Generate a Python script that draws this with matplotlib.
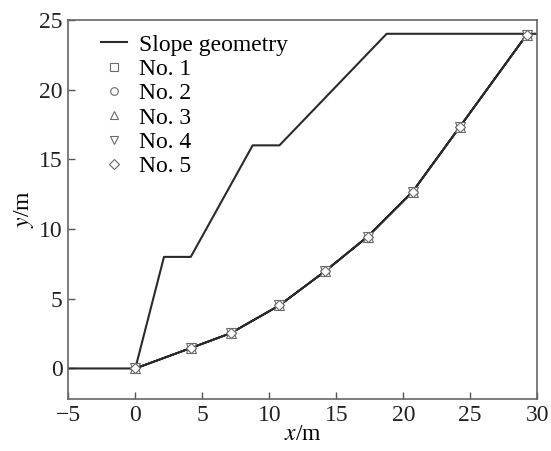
import matplotlib
matplotlib.use('Agg')
import matplotlib.pyplot as plt
from matplotlib.lines import Line2D

plt.rcParams['font.family'] = ['Liberation Serif', 'DejaVu Serif']
plt.rcParams['mathtext.fontset'] = 'stix'

# slope profile (75, 60, 45 degree faces with 2 m benches)
slope_x = [-5, 0, 2.14, 4.14, 8.76, 10.76, 18.76, 30]
slope_y = [0, 0, 8, 8, 16, 16, 24, 24]

# critical slip surfaces for the five cases (practically coincident)
slip_x = [0, 4.13, 7.12, 10.75, 14.16, 17.35, 20.71, 24.24, 29.22]
no1_y = [0, 1.46, 2.53, 4.52, 6.97, 9.46, 12.69, 17.35, 23.94]
no2_y = [0, 1.46, 2.53, 4.52, 6.97, 9.46, 12.69, 17.35, 23.94]
no3_y = [0, 1.46, 2.53, 4.52, 6.97, 9.46, 12.69, 17.35, 23.94]
no4_y = [0, 1.46, 2.53, 4.52, 6.97, 9.46, 12.69, 17.35, 23.94]
no5_y = [0, 1.46, 2.53, 4.52, 6.97, 9.46, 12.69, 17.35, 23.94]

labels = ['No. 1', 'No. 2', 'No. 3', 'No. 4', 'No. 5']
markers = ['s', 'o', '^', 'v', 'D']
series = [no1_y, no2_y, no3_y, no4_y, no5_y]
sizes = {'s': 5, 'o': 6, '^': 7.5, 'v': 7.5, 'D': 5.5}

fig = plt.figure(figsize=(5.51, 4.51), dpi=100)
ax = fig.add_axes([0.124, 0.115, 0.851, 0.841])

line_c = '#2a2a2a'
edge_c = '#6a6a6a'

ax.plot(slope_x, slope_y, color=line_c, lw=1.5, zorder=2)

for ys in series:
    ax.plot(slip_x, ys, color=line_c, lw=1.3, zorder=2)
for ys, m in zip(series, markers):
    ax.plot(slip_x, ys, ls='none', marker=m, ms=sizes[m], mfc='white',
            mec=edge_c, mew=0.8, zorder=3)

handles = [Line2D([], [], color=line_c, lw=1.5, label='Slope geometry')]
for lab, m in zip(labels, markers):
    handles.append(Line2D([], [], ls='none', marker=m, ms=5.5, mfc='white',
                          mec=edge_c, mew=0.8, label=lab))
ax.legend(handles=handles, loc='upper left', frameon=False, fontsize=17,
          handlelength=1.1, handletextpad=0.5, labelspacing=0.12,
          borderaxespad=0.2, bbox_to_anchor=(0.04, 1.0))

ax.set_xlim(-5, 30)
ax.set_ylim(-2.2, 25)
ax.set_xticks([-5, 0, 5, 10, 15, 20, 25, 30])
ax.set_xticklabels(['\u22125', '0', '5', '10', '15', '20', '25', '30'])
ax.set_yticks([0, 5, 10, 15, 20, 25])
ax.tick_params(direction='in', length=5, width=1, labelsize=17, colors='#222222',
               pad=4)
ax.tick_params(axis='both', color='#555555')
for s in ax.spines.values():
    s.set_color('#666666')
    s.set_linewidth(1.2)

ax.set_xlabel('$\\mathit{x}$/m', fontsize=17, labelpad=-1)
ax.set_ylabel('$\\mathit{y}$/m', fontsize=17, labelpad=2)

fig.savefig('out.png', dpi=100)
